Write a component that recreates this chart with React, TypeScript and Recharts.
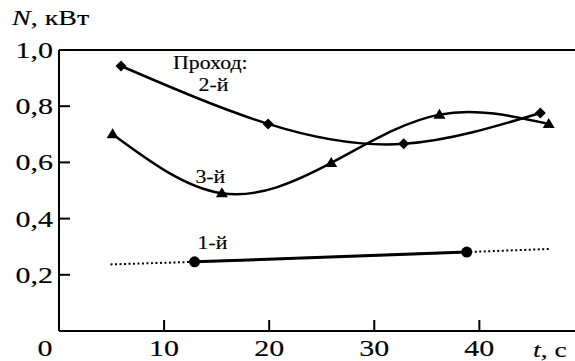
import { Line, LineChart, ReferenceDot, ReferenceLine, XAxis, YAxis } from "recharts";

// values: t in s, N in kW
const pass1Solid = [
  { x: 12.9, y: 0.246 },
  { x: 38.8, y: 0.281 },
];
const pass1Dotted = [
  { x: 4.9, y: 0.237 },
  { x: 12.9, y: 0.246 },
  { x: 38.8, y: 0.281 },
  { x: 46.8, y: 0.292 },
];
const pass2 = [
  { x: 5.9, y: 0.943 },
  { x: 19.9, y: 0.737 },
  { x: 32.8, y: 0.666 },
  { x: 45.8, y: 0.776 },
];
const pass3 = [
  { x: 5.1, y: 0.7 },
  { x: 15.5, y: 0.49 },
  { x: 25.9, y: 0.598 },
  { x: 36.2, y: 0.77 },
  { x: 46.6, y: 0.737 },
];
const xTicks = [0, 10, 20, 30, 40];
const yTicks = [0.2, 0.4, 0.6, 0.8, 1.0];
const notes = [
  { x: 14.4, y: 0.954, text: "Проход:" },
  { x: 14.7, y: 0.875, text: "2-й" },
  { x: 14.4, y: 0.548, text: "3-й" },
  { x: 14.6, y: 0.313, text: "1-й" },
];

const FONT = "'Liberation Serif', 'Times New Roman', serif";
const INK = "#000";

// the original type is a wide schoolbook face, so stretch Liberation Serif a bit
function SText({ x, y, size, sx = 1.2, anchor = "start", children }: any) {
  return (
    <text
      transform={`translate(${x},${y}) scale(${sx},1)`}
      textAnchor={anchor}
      fontFamily={FONT}
      fontSize={size}
      fill={INK}
      stroke={INK}
      strokeWidth={0.15}
    >
      {children}
    </text>
  );
}

function Diamond({ cx, cy }: any) {
  if (cx == null || cy == null) return null;
  return <polygon points={`${cx},${cy - 5.5} ${cx + 5.5},${cy} ${cx},${cy + 5.5} ${cx - 5.5},${cy}`} fill={INK} />;
}

function Triangle({ cx, cy }: any) {
  if (cx == null || cy == null) return null;
  return <polygon points={`${cx},${cy - 6} ${cx + 6},${cy + 4} ${cx - 6},${cy + 4}`} fill={INK} />;
}

function Dot({ cx, cy }: any) {
  if (cx == null || cy == null) return null;
  return <circle cx={cx} cy={cy} r={5.5} fill={INK} />;
}

function YTick({ x, y, payload }: any) {
  return (
    <g>
      <line x1={x + 6} x2={x + 17} y1={y} y2={y} stroke={INK} strokeWidth={2} />
      <SText x={x} y={y + 8} size={24} sx={1.25} anchor="end">
        {Number(payload.value).toFixed(1).replace(".", ",")}
      </SText>
    </g>
  );
}

function XTick({ x, y, payload }: any) {
  const v = Number(payload.value);
  return (
    <g>
      {v !== 0 && <line x1={x} x2={x} y1={y} y2={y - 11} stroke={INK} strokeWidth={2} />}
      <SText x={v === 0 ? x - 14 : x} y={y + 25} size={24} sx={1.25} anchor="middle">
        {v}
      </SText>
    </g>
  );
}

export default function App() {
  return (
    <div style={{ position: "absolute", left: 0, top: 0, background: "#fff" }}>
      <LineChart width={575} height={361} margin={{ top: 50, right: 0, bottom: 0, left: 0 }}>
        <XAxis
          type="number"
          dataKey="x"
          domain={[0, 49.1]}
          ticks={xTicks}
          allowDataOverflow
          height={30}
          tickSize={0}
          tickMargin={0}
          tick={<XTick />}
          axisLine={{ stroke: INK, strokeWidth: 2 }}
          label={({ viewBox }: any) => (
            <SText x={viewBox.x + viewBox.width - 42} y={357} size={22} sx={1.25}>
              <tspan fontStyle="italic">t</tspan>, с
            </SText>
          )}
        />
        <YAxis
          type="number"
          dataKey="y"
          domain={[0, 1]}
          ticks={yTicks}
          width={59}
          tickSize={0}
          tickMargin={6}
          tick={<YTick />}
          axisLine={{ stroke: INK, strokeWidth: 2 }}
          label={() => (
            <SText x={12} y={25} size={20} sx={1.4}>
              <tspan fontStyle="italic">N</tspan>, кВт
            </SText>
          )}
        />
        <ReferenceLine y={1} stroke={INK} strokeWidth={2} />
        <Line
          data={pass1Dotted}
          dataKey="y"
          type="linear"
          stroke={INK}
          strokeWidth={2}
          strokeDasharray="2 2.5"
          dot={false}
          activeDot={false}
          isAnimationActive={false}
        />
        <Line
          data={pass1Solid}
          dataKey="y"
          type="linear"
          stroke={INK}
          strokeWidth={3}
          dot={<Dot />}
          activeDot={false}
          isAnimationActive={false}
        />
        <Line
          data={pass2}
          dataKey="y"
          type="natural"
          stroke={INK}
          strokeWidth={2.5}
          dot={<Diamond />}
          activeDot={false}
          isAnimationActive={false}
        />
        <Line
          data={pass3}
          dataKey="y"
          type="natural"
          stroke={INK}
          strokeWidth={2.5}
          dot={<Triangle />}
          activeDot={false}
          isAnimationActive={false}
        />
        {notes.map((n) => (
          <ReferenceDot
            key={n.text}
            x={n.x}
            y={n.y}
            r={0}
            stroke="none"
            fill="none"
            label={{
              content: ({ viewBox }: any) => (
                <SText x={viewBox.x} y={viewBox.y + 6} size={19} sx={1.15} anchor="middle">
                  {n.text}
                </SText>
              ),
            }}
          />
        ))}
      </LineChart>
    </div>
  );
}
